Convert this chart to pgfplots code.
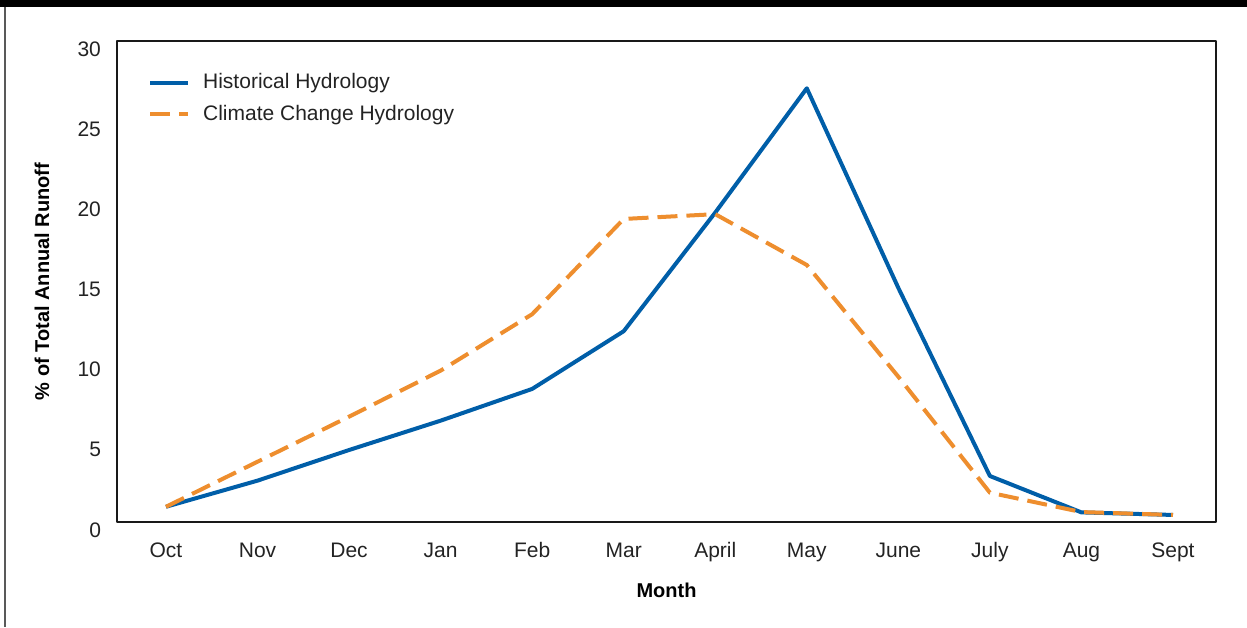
\documentclass[border=0pt]{standalone}
\usepackage{fontspec}
\setmainfont{Liberation Sans}
\usepackage{pgfplots}
\pgfplotsset{compat=1.18}

\definecolor{histblue}{RGB}{0,94,168}
\definecolor{ccorange}{RGB}{238,142,46}
\definecolor{txtgray}{RGB}{35,35,35}

\begin{document}
\begin{tikzpicture}
  % page frame: 1px = 0.5pt
  \useasboundingbox (-58.5pt,-52.5pt) rectangle (565pt,261pt);
  \fill[black] (-58.5pt,257.5pt) rectangle (565pt,261pt);
  \fill[black!65] (-56.5pt,-52.5pt) rectangle (-55.5pt,257.5pt);

  \begin{axis}[
    scale only axis,
    width=549.5pt, height=240.5pt,
    xmin=-0.535, xmax=11.47,
    ymin=0, ymax=30,
    xtick={0,...,11},
    xticklabels={Oct,Nov,Dec,Jan,Feb,Mar,April,May,June,July,Aug,Sept},
    ytick={0,5,...,30},
    major tick length=0pt,
    axis line style={black!90, line width=0.9pt},
    /pgf/number format/assume math mode=true,
    tick label style={font=\fontsize{10.5}{12}\selectfont, text=txtgray},
    xticklabel style={anchor=base, yshift=-17.5pt},
    yticklabel style={xshift=-4.5pt, yshift=-4pt},
    xlabel={\textbf{Month}},
    ylabel={\textbf{\% of Total Annual Runoff}},
    label style={font=\fontsize{10}{12}\selectfont, text=black},
    xlabel style={at={(axis description cs:0.5,-0.1414)}, anchor=center},
    ylabel style={at={(axis description cs:-0.0682,0.5)}, anchor=center},
    legend style={at={(axis description cs:0.028,0.941)}, anchor=north west,
      draw=none, fill=none, inner sep=0pt, row sep=2.5pt,
      font=\fontsize{10.5}{12}\selectfont, text=txtgray,
      nodes={inner xsep=6.5pt}},
    legend cell align=left,
    legend image code/.code={\draw[#1] (0pt,0pt) -- (19pt,0pt);},
    line join=round,
  ]
    \addplot[histblue, line width=2pt] coordinates {
      (0,0.95) (1,2.58) (2,4.49) (3,6.32) (4,8.30) (5,11.9)
      (6,19.3) (7,27.05) (8,14.6) (9,2.87) (10,0.60) (11,0.44)};
    \addlegendentry{Historical Hydrology}
    \addplot[ccorange, line width=2pt, dash pattern=on 10pt off 4.5pt] coordinates {
      (0,0.95) (1,3.76) (2,6.57) (3,9.44) (4,12.96) (5,18.9)
      (6,19.2) (7,16.03) (8,9.06) (9,1.83) (10,0.62) (11,0.44)};
    \addlegendentry{Climate Change Hydrology}
  \end{axis}
\end{tikzpicture}
\end{document}
